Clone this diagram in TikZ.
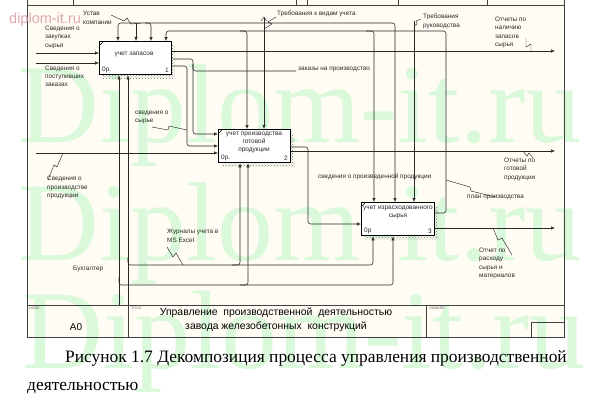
\documentclass[tikz,border=0pt]{standalone}
\usepackage{fontspec}
\setmainfont{Liberation Serif}
\newfontfamily\arial{Liberation Sans}
\usetikzlibrary{arrows.meta,patterns}
\definecolor{cream}{RGB}{254,252,243}
\definecolor{wmgreen}{RGB}{218,248,218}
\definecolor{wmpink}{RGB}{226,165,178}
\definecolor{ink}{RGB}{40,40,40}
\tikzset{
  ln/.style={draw=ink, line width=0.55pt, rounded corners=2.5pt},
  arr/.style={-{Latex[length=4pt,width=3.4pt]}},
  darr/.style={{Latex[length=4pt,width=3.4pt]}-{Latex[length=4pt,width=3.4pt]}},
  sq/.style={draw=ink, line width=0.45pt},
  box/.style={draw=black, line width=1.3pt, fill=white, inner sep=0pt, anchor=north west},
  shadow/.style={pattern=crosshatch dots, pattern color=black!55},
  lbl/.style={font=\arial\fontsize{6.4}{8.2}\selectfont, align=left, inner sep=0pt, anchor=north west, text=ink},
  btxt/.style={font=\arial\fontsize{6.5}{8}\selectfont, align=center, inner sep=0pt, text=ink},
  tiny/.style={font=\arial\fontsize{3.6}{4}\selectfont, inner sep=0pt, anchor=north west, text=black!60},
  wm/.style={font=\fontsize{112}{112}\selectfont, text=wmgreen, inner sep=0pt, anchor=base west},
  frame/.style={draw=black!75, line width=0.7pt}
}
\begin{document}
\begin{tikzpicture}[x=1pt,y=-1pt]
\useasboundingbox (0,0) rectangle (599,410);
\fill[white] (0,0) rectangle (599,410);
\fill[cream] (27,0) rectangle (564,337);
% watermark
\node[wm] (wm1) at (18,142) {Diplom-it.ru};
\node[wm] (wm2) at (18,260) {Diplom-it.ru};
\node[wm] (wm3) at (22,368) {Diplom-it.ru};
% frame
\draw[frame] (27,0) -- (27,337) -- (564,337) -- (564,0);
\draw[frame] (27,5) -- (564,5);
\draw[frame] (27,305) -- (564,305);
\foreach \x in {73,296,307,398,487} \draw[frame] (\x,0) -- (\x,5);
\draw[frame] (128,305) -- (128,337);
\draw[frame] (426,305) -- (426,337);
\draw[frame] (531,337) |- (564,322);
% boxes with shadows
\fill[shadow] (103,45) rectangle (175,78);
\fill[shadow] (222,133) rectangle (294,166);
\fill[shadow] (365,206) rectangle (438,239);
\node[box, minimum width=72pt, minimum height=33pt] (b1) at (99,41) {};
\node[box, minimum width=72pt, minimum height=33pt] (b2) at (218,129) {};
\node[box, minimum width=73pt, minimum height=33pt] (b3) at (361,202) {};
\draw[line width=0.5pt] (100,45) -- (103,42);
\draw[line width=0.5pt] (219,133) -- (222,130);
\draw[line width=0.5pt] (362,206) -- (365,203);
% box texts
\node[btxt] (t1) at (134,54) {учет запасов};
\node[btxt, anchor=south west] (n1a) at (102,73) {0р.};
\node[btxt, anchor=south east] (n1b) at (169,73) {1};
\node[btxt, anchor=north] (t2) at (254,132) {учет производства\\готовой\\продукции};
\node[btxt, anchor=south west] (n2a) at (221,161) {0р.};
\node[btxt, anchor=south east] (n2b) at (288,161) {2};
\node[btxt, anchor=north] (t3) at (398,206) {учет израсходованного\\сырья};
\node[btxt, anchor=south west] (n3a) at (364,234) {0р};
\node[btxt, anchor=south east] (n3b) at (432,234) {3};
% inputs
\draw[ln,arr] (36,53) -- (b1.west |- 36,53);
\draw[ln,arr] (36,63) -- (b1.west |- 36,63);
\draw[ln,arr] (36,153) -- (b2.west |- 36,153);
% controls
\draw[ln,darr] (b1.north -| 118,0) |- (395,23) -- (b3.north -| 395,0);
\draw[ln,arr] (136,23) -- (b1.north -| 136,0);
\draw[ln,arr] (145,23) -| (b1.north -| 151,0);
\draw[ln,arr] (b3.east |- 0,213) -| (446,31) -| (b1.north -| 166,0);
\draw[ln,arr] (240,31) -| (b2.north -| 247,0);
\draw[ln,arr] (366,31) -| (b3.north -| 374,0);
\draw[ln,arr] (264,18) -- (b2.north -| 264,0);
\draw[sq] (261,21) -- (264,17) -- (267,21);
\draw[ln,arr] (414,21) -- (b3.north -| 414,0);
% outputs of box 1
\draw[ln,arr] (b1.east |- 0,51) -- (555,51);
\draw[ln,arr] (b1.east |- 0,59) -| (193,134) -- (b2.west |- 0,134);
\draw[ln] (193,64) |- (296,71);
\draw[ln,arr] (b1.east |- 0,66) -| (187,146) -- (b2.west |- 0,146);
% mechanisms
\draw[ln,arr] (119,305) -- (b1.south -| 119,0);
\draw[ln,arr] (128,305) -- (b1.south -| 128,0);
\draw[ln,arr] (128,257) |- (373,265) -- (b3.south -| 373,0);
\draw[ln,arr] (119,277) |- (393,285) -- (b3.south -| 393,0);
\draw[ln,arr] (232,265) -| (b2.south -| 240,0);
\draw[ln,arr] (240,285) -| (b2.south -| 248,0);
% outputs of box 2 and 3
\draw[ln,arr] (b2.east |- 0,151) -- (555,151);
\draw[ln,arr] (b2.east |- 0,147) -| (308,224) -- (b3.west |- 0,224);
\draw[ln,arr] (b3.east |- 0,228) -- (555,228);
% squiggles
\draw[sq] (111,15) -- (124,21) -- (127,18) -- (131,24) -- (141,23);
\draw[sq] (276,17) -- (268,22) -- (272,24) -- (264,29);
\draw[sq] (421,19) -- (416,21) -- (417,24) -- (414,26);
\draw[sq] (526,38) -- (526,47) -- (531,44) -- (531,51);
\draw[sq] (152,127) -- (168,130) -- (169,126) -- (187,130);
\draw[sq] (63,153) -- (57,167) -- (54,165) -- (48,180);
\draw[sq] (167,247) -- (173,257) -- (176,253) -- (183,265);
\draw[sq] (523,151) -- (527,156) -- (529,153) -- (533,158);
\draw[sq] (446,180) -- (470,187) -- (471,191) -- (495,197);
\draw[sq] (493,228) -- (498,240) -- (502,238) -- (512,255);
% labels
\node[lbl] (l1) at (45,26) {Сведения о\\закупках\\сырья};
\node[lbl] (l2) at (45,65.5) {Сведения о\\поступивших\\заказах};
\node[lbl, font=\arial\fontsize{6.4}{9}\selectfont] (l3) at (83,11) {Устав\\компании};
\node[lbl] (l4) at (277,11) {Требования к видам учета};
\node[lbl, font=\arial\fontsize{6.4}{9}\selectfont] (l5) at (423,14) {Требования\\руководства};
\node[lbl] (l6) at (495,17) {Отчеты по\\наличию\\запасов\\сырья};
\node[lbl] (l7) at (298,67) {заказы на производство};
\node[lbl] (l8) at (135,111) {сведения о\\сырье};
\node[lbl, font=\arial\fontsize{6.4}{8.5}\selectfont] (l9) at (47,176) {Сведения о\\производстве\\продукции};
\node[lbl] (l10) at (318,174) {сведения о произведенной продукции};
\node[lbl] (l11) at (504,158) {Отчеты по\\готовой\\продукции};
\node[lbl] (l12) at (467,195) {план производства};
\node[lbl, font=\arial\fontsize{6.4}{9}\selectfont] (l13) at (167,229) {Журналы учета в\\MS Excel};
\node[lbl] (l14) at (73,266) {Бухгалтер};
\node[lbl] (l15) at (479,248) {Отчет по\\расходу\\сырья и\\материалов};
% title block
\node[tiny] (nd) at (29,307) {NODE:};
\node[tiny] (tt) at (131,307) {TITLE:};
\node[tiny] (nb) at (429,307) {NUMBER:};
\node[font=\arial\fontsize{10}{12}\selectfont, inner sep=0pt] (a0) at (76,327) {A0};
\node[font=\arial\fontsize{10.4}{14}\selectfont, align=center, inner sep=0pt] (ttl) at (276,320) {Управление\ \ производственной\ \ деятельностью\\завода железобетонных\ \ конструкций};
% caption
\node[font=\fontsize{17.4}{20}\selectfont, inner sep=0pt, anchor=base west] (c1) at (65,362) {Рисунок 1.7 Декомпозиция процесса управления производственной};
\node[font=\fontsize{17.4}{20}\selectfont, inner sep=0pt, anchor=base west] (c2) at (27,390) {деятельностью};
% small pink watermark
\node[font=\arial\fontsize{14.5}{15}\selectfont, text=wmpink, inner sep=0pt, anchor=west] (wmp) at (9,20) {diplom-it.ru};
\end{tikzpicture}
\end{document}
